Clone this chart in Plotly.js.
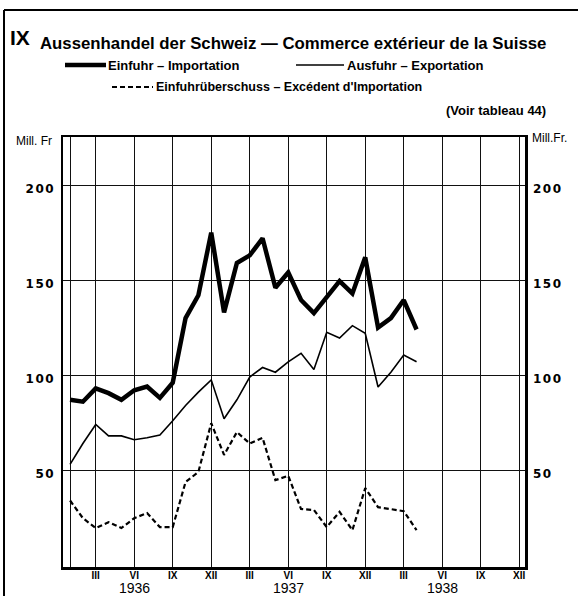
<!DOCTYPE html>
<html><head><meta charset="utf-8">
<script src="https://cdn.plot.ly/plotly-3.0.1.min.js"></script>
<style>
html,body{margin:0;padding:0;background:#fff;}
#chart{width:578px;height:596px;}
.ytick text,.y2tick text{letter-spacing:1.5px;}
</style></head><body><div id="chart"></div>
<script>
// Monthly data, Jan 1936 – Apr 1938 (Mill. Fr.)
const months = ['1936-01','1936-02','1936-03','1936-04','1936-05','1936-06','1936-07','1936-08','1936-09','1936-10','1936-11','1936-12',
                '1937-01','1937-02','1937-03','1937-04','1937-05','1937-06','1937-07','1937-08','1937-09','1937-10','1937-11','1937-12',
                '1938-01','1938-02','1938-03','1938-04'];
const einfuhr = [87, 86, 93, 90.5, 87, 92, 94, 88, 96, 130, 142, 175,
                 133, 159, 163, 172, 146, 154, 139.5, 132.6, 141, 149.5, 143, 162,
                 125, 130, 139.5, 124];
const ausfuhr = [53, 64, 74, 68, 68, 66, 67, 68.5, 76, 84, 91, 97.5,
                 77, 87, 99, 104, 101.5, 107, 111.5, 103, 122.5, 119.5, 126, 122,
                 93.7, 101.5, 110.5, 107];
const ueberschuss = [34, 24.7, 19.5, 22.6, 19.5, 24.7, 27.4, 20, 20, 43.7, 49, 74.7,
                     58, 70, 64, 67, 44.7, 47, 29.5, 29, 20, 28, 18.4, 40.5,
                     30.5, 29.5, 28.4, 18.4];
// axis ticks
const monthTickVals = [1,3,6,9,12,15,18,21,24,27,30,33,36];
const monthTickText = ['','III','VI','IX','XII','III','VI','IX','XII','III','VI','IX','XII'];
const years = ['1936','1937','1938'];
const yearMidMonth = [6,18,30];
const yTickVals = [50,100,150,200];

const xPos = months.map(m => { const [y, mo] = m.split('-').map(Number); return (y - 1936) * 12 + mo; });

const traces = [
  {x: xPos, y: einfuhr, mode:'lines', line:{color:'#000', width:4.5}, name:'Einfuhr'},
  {x: xPos, y: ausfuhr, mode:'lines', line:{color:'#000', width:1.6}, name:'Ausfuhr'},
  {x: xPos, y: ueberschuss, mode:'lines', line:{color:'#000', width:2.2, dash:'5px,3px'}, name:'Einfuhrüberschuss', yaxis:'y2'}
];

const L = 63, R = 525, T = 137, B = 567;
const px = v => (v - L) / (R - L);
const py = v => (B - v) / (B - T);

const tickFont = {family:'DejaVu Sans', size:12, color:'#000', weight:'bold'};
const yCommon = {range:[-1, 225.3], tickvals:yTickVals, ticks:'', ticklabelshift:4,
                 tickfont:tickFont, zeroline:false, fixedrange:true};

const legendFont = {family:'Liberation Sans', size:13, color:'#000', weight:'bold'};
const legendFont2 = {family:'Liberation Sans', size:12.5, color:'#000', weight:'bold'};
const annotations = [
  {text:'IX', x:px(8), y:py(37), xref:'paper', yref:'paper', xanchor:'left', yanchor:'middle', showarrow:false,
   font:{family:'Liberation Sans', size:21, weight:'bold', color:'#000'}},
  {text:'Aussenhandel der Schweiz — Commerce extérieur de la Suisse', x:px(38), y:py(43), xref:'paper', yref:'paper',
   xanchor:'left', yanchor:'middle', showarrow:false, font:{family:'Liberation Sans', size:16.8, weight:'bold', color:'#000'}},
  {text:'Einfuhr – Importation', x:px(106), y:py(65), xref:'paper', yref:'paper', xanchor:'left', yanchor:'middle', showarrow:false, font:legendFont},
  {text:'Ausfuhr – Exportation', x:px(345), y:py(65), xref:'paper', yref:'paper', xanchor:'left', yanchor:'middle', showarrow:false, font:legendFont},
  {text:'Einfuhrüberschuss – Excédent d\'Importation', x:px(154), y:py(87), xref:'paper', yref:'paper', xanchor:'left', yanchor:'middle', showarrow:false, font:legendFont2},
  {text:'(Voir tableau 44)', x:px(548), y:py(110), xref:'paper', yref:'paper', xanchor:'right', yanchor:'middle', showarrow:false, font:legendFont},
  {text:'Mill. Fr', x:px(54), y:py(141), xref:'paper', yref:'paper', xanchor:'right', yanchor:'middle', showarrow:false,
   font:{family:'Liberation Sans Narrow, Liberation Sans', size:12, color:'#000'}},
  {text:'Mill.Fr.', x:px(530), y:py(138), xref:'paper', yref:'paper', xanchor:'left', yanchor:'middle', showarrow:false,
   font:{family:'Liberation Sans Narrow, Liberation Sans', size:12, color:'#000'}}
];
years.forEach((yr, i) => annotations.push({text:yr, x:yearMidMonth[i], xref:'x', y:py(587.5), yref:'paper',
  xanchor:'center', yanchor:'middle', showarrow:false, borderpad:0, font:{family:'Liberation Sans', size:14, color:'#000'}}));

const shapes = [
  // legend samples
  {type:'line', xref:'paper', yref:'paper', x0:px(65), x1:px(106), y0:py(65), y1:py(65), line:{color:'#000', width:4.5}},
  {type:'line', xref:'paper', yref:'paper', x0:px(296), x1:px(344), y0:py(65), y1:py(65), line:{color:'#000', width:1.6}},
  {type:'line', xref:'paper', yref:'paper', x0:px(112), x1:px(153), y0:py(87), y1:py(87), line:{color:'#000', width:2.2, dash:'5px,3px'}},
  // outer frame (left and top)
  {type:'line', xref:'paper', yref:'paper', x0:px(4), x1:px(4), y0:py(10), y1:py(600), line:{color:'#000', width:2}},
  {type:'line', xref:'paper', yref:'paper', x0:px(4), x1:px(580), y0:py(10), y1:py(10), line:{color:'#000', width:2}}
];

const layout = {
  width:578, height:596, margin:{l:L, r:578-R, t:T, b:596-B},
  paper_bgcolor:'#fff', plot_bgcolor:'#fff', showlegend:false,
  xaxis:{range:[0.45, 36.45], tickvals:monthTickVals, ticktext:monthTickText, ticks:'', ticklabelstandoff:-3,
         tickfont:{family:'Liberation Sans Narrow, Liberation Sans', size:10, color:'#000', weight:'bold'},
         showgrid:true, gridcolor:'#111', gridwidth:1, zeroline:false,
         showline:true, mirror:true, linecolor:'#000', linewidth:2.5, fixedrange:true},
  yaxis:Object.assign({}, yCommon, {side:'left', ticklabelstandoff:3, showgrid:true, gridcolor:'#111', gridwidth:1,
         showline:true, mirror:true, linecolor:'#000', linewidth:2.5}),
  yaxis2:Object.assign({}, yCommon, {side:'right', ticklabelstandoff:7, overlaying:'y', showgrid:false, showline:false}),
  annotations:annotations, shapes:shapes
};

Plotly.newPlot('chart', traces, layout, {staticPlot:true, displayModeBar:false});
</script></body></html>
